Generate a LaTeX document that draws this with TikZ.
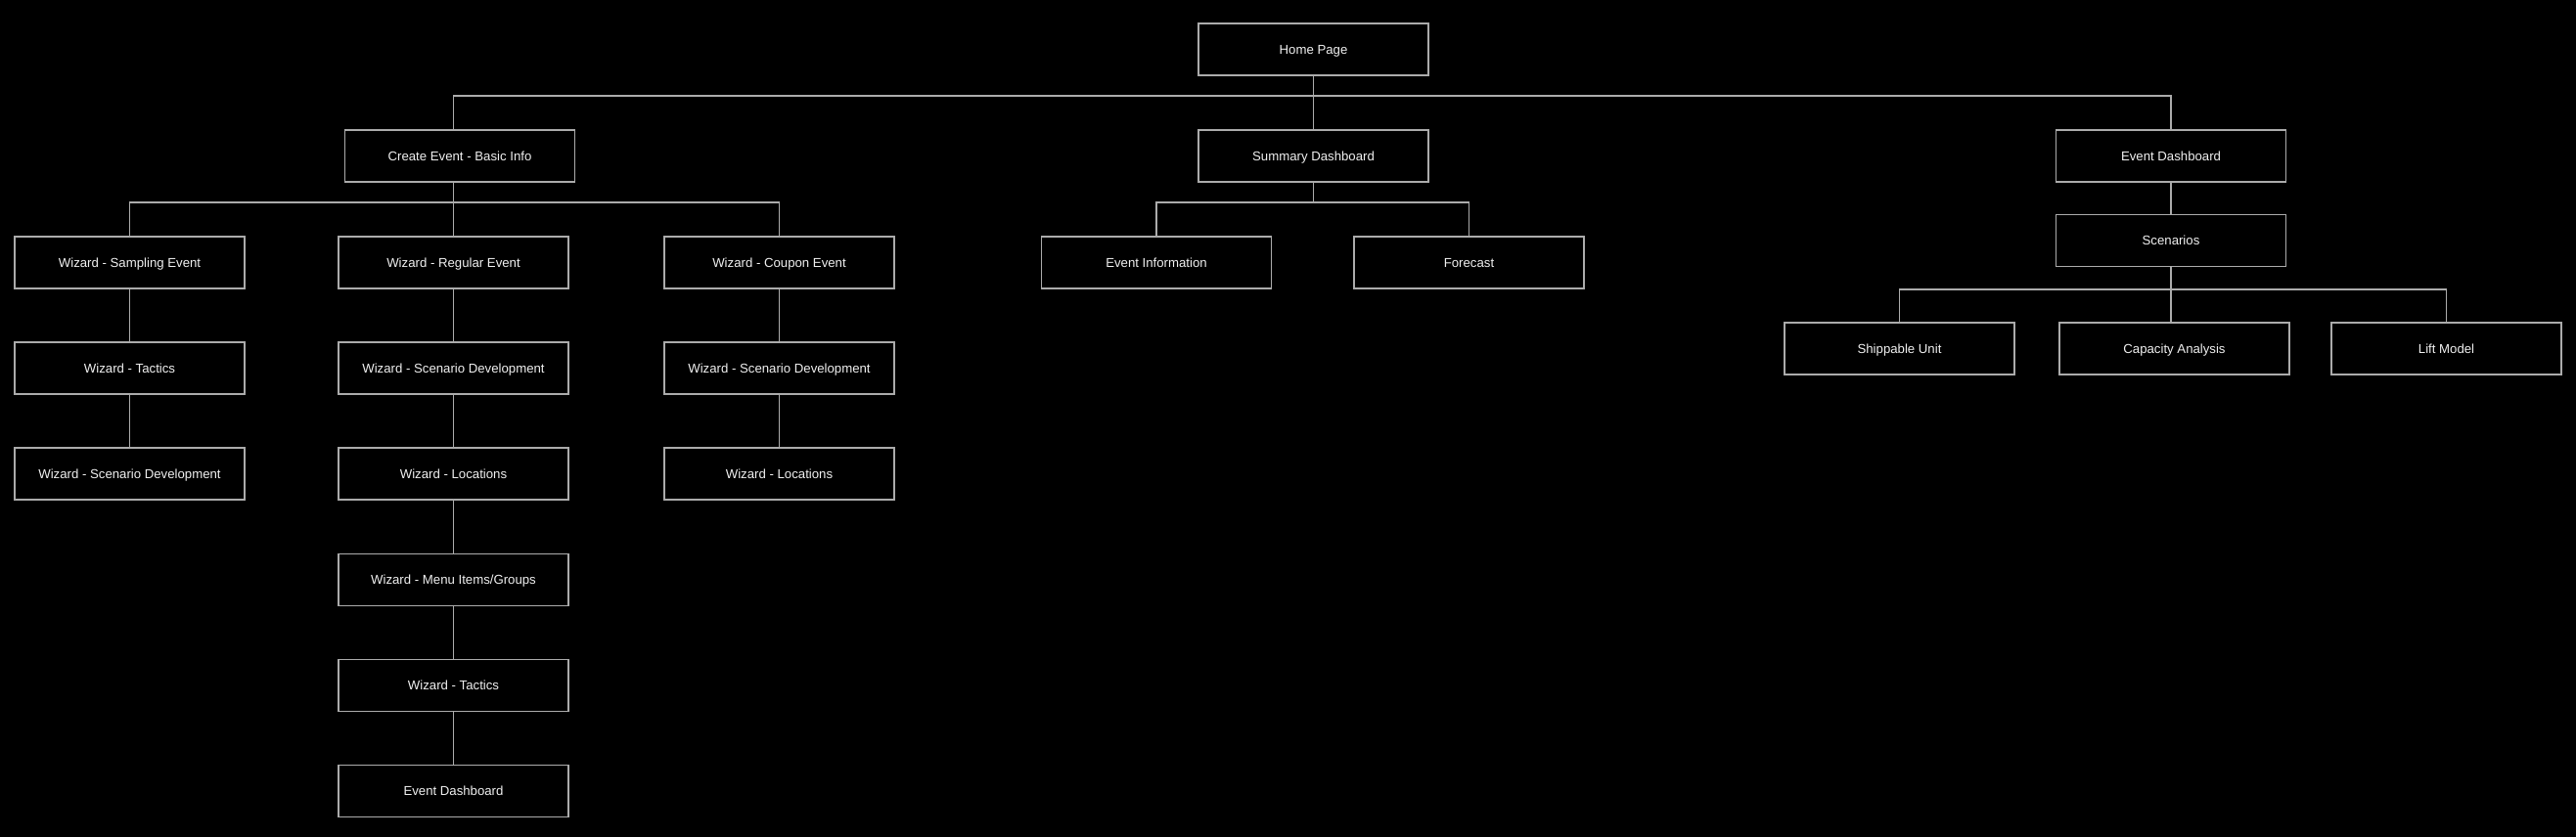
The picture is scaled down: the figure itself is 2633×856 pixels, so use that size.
\documentclass[tikz,border=0pt]{standalone}
\usepackage{fontspec}
\setmainfont{Liberation Sans}
\definecolor{linec}{HTML}{ABABAB}
\definecolor{textc}{HTML}{F0F0F0}
\begin{document}
\begin{tikzpicture}[x=1pt,y=-1pt,
  box/.style={draw=linec, line width=1.2pt, minimum width=235pt, minimum height=53pt, inner sep=0pt, text height=9.5pt, text depth=0pt, text=textc, font=\fontsize{13.2pt}{15pt}\selectfont},
  conn/.style={draw=linec, line width=1.2pt}]
\fill[black] (0,0) rectangle (2633,856);
\useasboundingbox (0,0) rectangle (2633,856);
\coordinate (bus1) at (0,98);
\coordinate (bus2) at (0,207);
\coordinate (bus3) at (0,296);

\node[box] (home) at (1342.5,50.5) {Home Page};
\node[box] (create) at (470,159.5) {Create Event - Basic Info};
\node[box] (summary) at (1342.5,159.5) {Summary Dashboard};
\node[box] (edash) at (2219,159.5) {Event Dashboard};

\node[box] (sampling) at (132.5,268.5) {Wizard - Sampling Event};
\node[box] (regular) at (463.5,268.5) {Wizard - Regular Event};
\node[box] (coupon) at (796.5,268.5) {Wizard - Coupon Event};
\node[box] (einfo) at (1182,268.5) {Event Information};
\node[box] (forecast) at (1501.5,268.5) {Forecast};
\node[box] (scen) at (2219,246) {Scenarios};

\node[box] (tact1) at (132.5,376.5) {Wizard - Tactics};
\node[box] (sd1) at (132.5,484.5) {Wizard - Scenario Development};
\node[box] (sd2) at (463.5,376.5) {Wizard - Scenario Development};
\node[box] (loc2) at (463.5,484.5) {Wizard - Locations};
\node[box] (menu) at (463.5,593) {Wizard - Menu Items/Groups};
\node[box] (tact2) at (463.5,701) {Wizard - Tactics};
\node[box] (ed2) at (463.5,809) {Event Dashboard};
\node[box] (sdc) at (796.5,376.5) {Wizard - Scenario Development};
\node[box] (locc) at (796.5,484.5) {Wizard - Locations};

\node[box] (ship) at (1941.5,356.5) {Shippable Unit};
\node[box] (cap) at (2222.5,356.5) {Capacity Analysis};
\node[box] (lift) at (2500.5,356.5) {Lift Model};

% level 1
\draw[conn] (home.south) -- (home.south |- bus1);
\draw[conn] (create.north -| regular.north) |- (bus1 -| edash.north) -- (edash.north);
\draw[conn] (summary.north) -- (summary.north |- bus1);
% level 2
\draw[conn] (sampling.north) |- (bus2 -| coupon.north) -- (coupon.north);
\draw[conn] (create.south -| regular.north) -- (regular.north);
\draw[conn] (einfo.north) |- (bus2 -| forecast.north) -- (forecast.north);
\draw[conn] (summary.south) -- (summary.south |- bus2);
\draw[conn] (edash) -- (scen);
% scenarios
\draw[conn] (ship.north) |- (bus3 -| lift.north) -- (lift.north);
\draw[conn] (scen.south) -- (scen.south |- cap.north);
% chains
\draw[conn] (sampling) -- (tact1);
\draw[conn] (tact1) -- (sd1);
\draw[conn] (regular) -- (sd2);
\draw[conn] (sd2) -- (loc2);
\draw[conn] (loc2) -- (menu);
\draw[conn] (menu) -- (tact2);
\draw[conn] (tact2) -- (ed2);
\draw[conn] (coupon) -- (sdc);
\draw[conn] (sdc) -- (locc);
\end{tikzpicture}
\end{document}
